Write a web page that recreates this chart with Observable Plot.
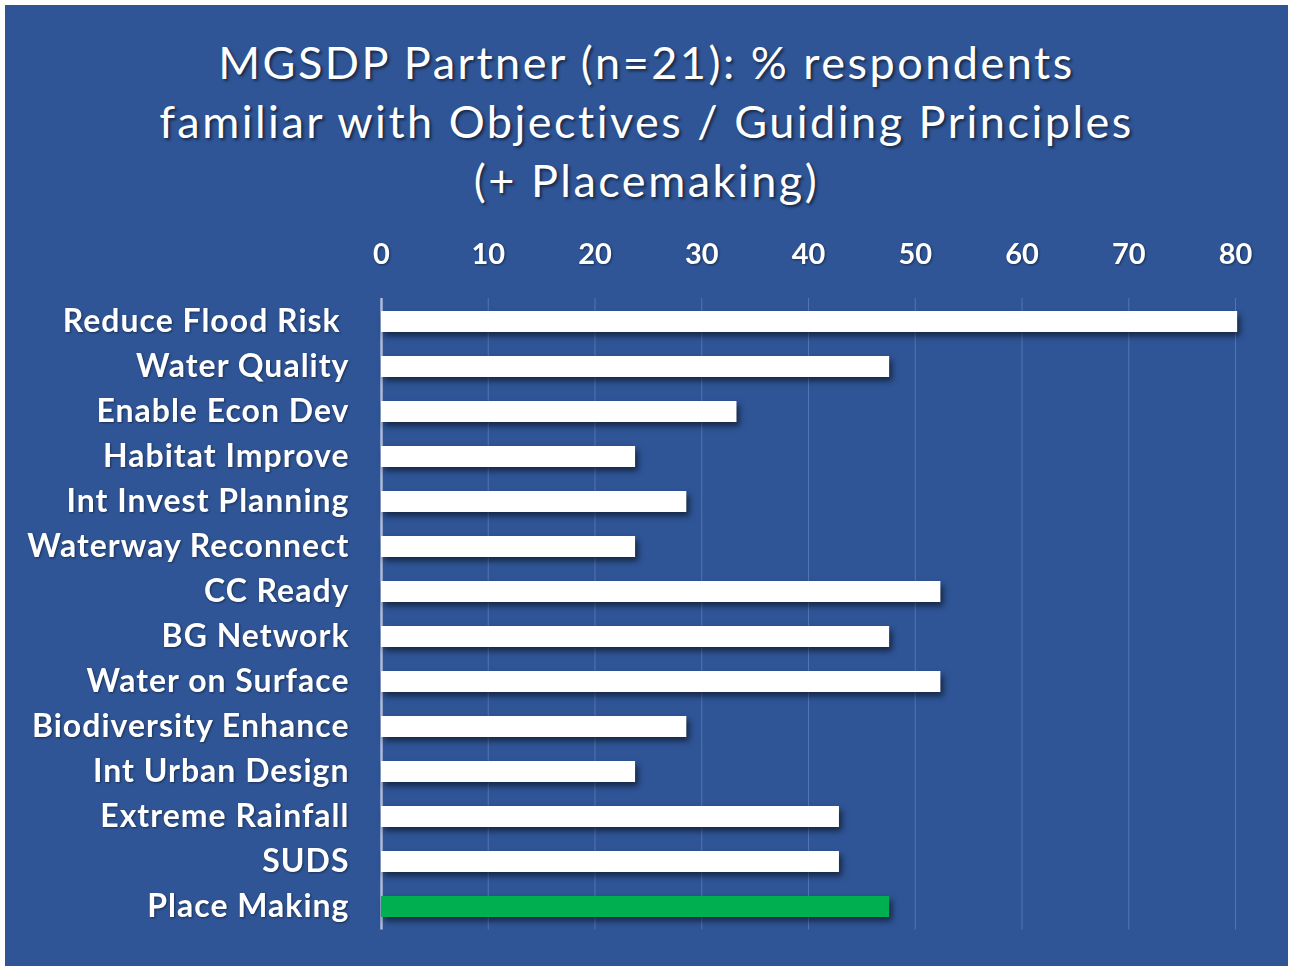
<!DOCTYPE html>
<html>
<head>
<meta charset="utf-8">
<script src="https://cdn.jsdelivr.net/npm/d3@7"></script>
<script src="https://cdn.jsdelivr.net/npm/@observablehq/plot@0.6"></script>
<style>
  html, body { margin: 0; padding: 0; background: #ffffff; }
  #panel {
    position: absolute; left: 5px; top: 5px; width: 1283px; height: 961px;
    background: #2F5597; overflow: hidden;
  }
  #title {
    margin: 0; padding-top: 28px; text-align: center; color: #ffffff;
    font-family: Lato, "Open Sans", sans-serif; font-size: 45px; line-height: 59px;
    letter-spacing: 2.5px; height: 177px;
    text-shadow: 2px 2px 3px rgba(0,0,0,0.55);
  }
  #chart svg text { filter: drop-shadow(1px 1px 1px rgba(0,0,0,0.45)); }
  #chart svg > g:last-of-type text { letter-spacing: 1px; }
  #chart svg g[aria-label="bar"] { filter: drop-shadow(3px 4px 3px rgba(0,0,0,0.55)); }
</style>
</head>
<body>
<div id="panel">
  <div id="title">MGSDP Partner (n=21): % respondents<br>familiar with Objectives / Guiding Principles<br>(+ Placemaking)</div>
  <div id="chart"></div>
</div>
<script>
const categories = [
  "Reduce Flood Risk\u00a0", "Water Quality", "Enable Econ Dev", "Habitat Improve",
  "Int Invest Planning", "Waterway Reconnect", "CC Ready", "BG Network",
  "Water on Surface", "Biodiversity Enhance", "Int Urban Design", "Extreme Rainfall",
  "SUDS", "Place Making"
];
const values = [80.2, 47.6, 33.3, 23.8, 28.6, 23.8, 52.4, 47.6, 52.4, 28.6, 23.8, 42.9, 42.9, 47.6];
const highlighted = ["Place Making"];
const xTicks = [0, 10, 20, 30, 40, 50, 60, 70, 80];

const data = categories.map((c, i) => ({cat: c, value: values[i]}));

const chart = Plot.plot({
  width: 1283,
  height: 756,
  marginTop: 88,
  marginBottom: 36.5,
  marginLeft: 376,
  marginRight: 53,
  style: {background: "transparent", color: "#ffffff", fontFamily: "Lato, 'Open Sans', sans-serif"},
  x: {domain: [0, 80], axis: null},
  y: {domain: categories, axis: null, paddingInner: 0.53, paddingOuter: 0.265},
  marks: [
    Plot.ruleX(xTicks.slice(1), {x: d => d, stroke: "#5474B2", strokeWidth: 1}),
    Plot.ruleX([0], {x: d => d, stroke: "#AEBBDD", strokeWidth: 2.5}),
    Plot.barX(data, {
      x: "value", y: "cat",
      fill: d => highlighted.includes(d.cat) ? "#00B050" : "#FFFFFF"
    }),
    Plot.text(xTicks, {
      x: d => d, text: d => String(d), frameAnchor: "top", dy: -44,
      lineAnchor: "middle", fontSize: 29, fontWeight: "bold", fill: "#ffffff"
    }),
    Plot.text(categories, {
      y: d => d, text: d => d, frameAnchor: "left", textAnchor: "end", dx: -32,
      lineAnchor: "middle", fontSize: 32, fontWeight: "bold", fill: "#ffffff"
    })
  ]
});
document.getElementById("chart").appendChild(chart);
</script>
</body>
</html>
